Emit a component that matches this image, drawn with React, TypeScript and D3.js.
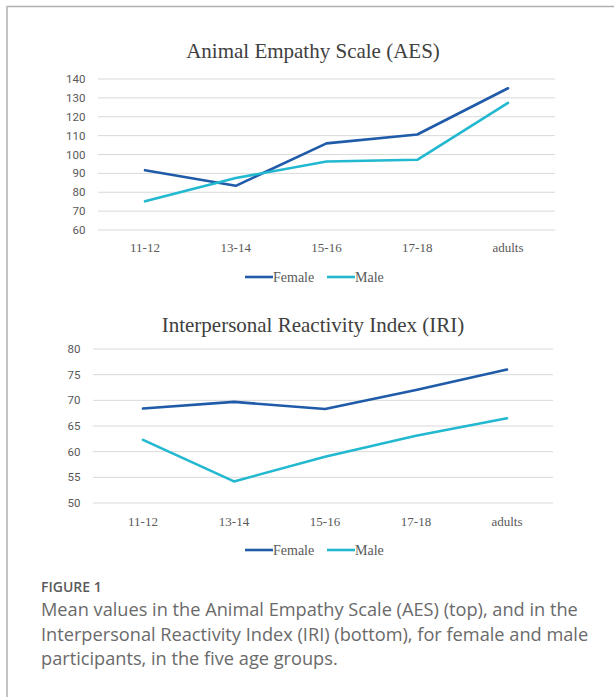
import { useEffect, useRef } from 'react'
import * as d3 from 'd3'

const AGE_GROUPS = ['11-12', '13-14', '15-16', '17-18', 'adults']
const SERIES_NAMES = ['Female', 'Male']

const AES_FEMALE = [91.7, 83.4, 105.9, 110.6, 135.1]
const AES_MALE = [75.2, 87.5, 96.3, 97.2, 127.3]
const AES_TICKS = [60, 70, 80, 90, 100, 110, 120, 130, 140]

const IRI_FEMALE = [68.4, 69.7, 68.3, 72.0, 76.0]
const IRI_MALE = [62.3, 54.2, 59.0, 63.1, 66.5]
const IRI_TICKS = [50, 55, 60, 65, 70, 75, 80]

const CAPTION_LINES = [
  'Mean values in the Animal Empathy Scale (AES) (top), and in the',
  'Interpersonal Reactivity Index (IRI) (bottom), for female and male',
  'participants, in the five age groups.',
]

const COLORS = ['#1f5ba8', '#22b8d0']
const SERIF = '"Liberation Serif", "Times New Roman", serif'
const SANS = 'Roboto, "Liberation Sans", sans-serif'

function drawPanel(svg, opts) {
  const { title, titleY, female, male, ticks, gridX, pointX, yRange, tickX, xLabelY, legendY } = opts

  const g = svg.append('g')

  const x = d3.scalePoint().domain(AGE_GROUPS).range(pointX)
  const y = d3
    .scaleLinear()
    .domain([ticks[0], ticks[ticks.length - 1]])
    .range(yRange)

  // title
  g.append('text')
    .attr('x', 313)
    .attr('y', titleY)
    .attr('text-anchor', 'middle')
    .attr('font-family', SERIF)
    .attr('font-size', 21)
    .attr('fill', '#404040')
    .text(title)

  // grid lines
  g.selectAll('line.grid')
    .data(ticks)
    .join('line')
    .attr('class', 'grid')
    .attr('x1', gridX[0])
    .attr('x2', gridX[1])
    .attr('y1', (d) => y(d))
    .attr('y2', (d) => y(d))
    .attr('stroke', '#d9d9d9')
    .attr('stroke-width', 1)

  // y tick labels
  g.selectAll('text.ytick')
    .data(ticks)
    .join('text')
    .attr('class', 'ytick')
    .attr('x', tickX)
    .attr('y', (d) => y(d))
    .attr('dy', '0.35em')
    .attr('text-anchor', 'end')
    .attr('font-family', SANS)
    .attr('font-size', 11.5)
    .attr('fill', '#595959')
    .text((d) => d)

  // x category labels
  g.selectAll('text.xtick')
    .data(AGE_GROUPS)
    .join('text')
    .attr('class', 'xtick')
    .attr('x', (d) => x(d))
    .attr('y', xLabelY)
    .attr('text-anchor', 'middle')
    .attr('font-family', SERIF)
    .attr('font-size', 13)
    .attr('fill', '#595959')
    .text((d) => d)

  const line = d3
    .line()
    .x((d, i) => x(AGE_GROUPS[i]))
    .y((d) => y(d))

  ;[female, male].forEach((vals, i) => {
    g.append('path')
      .datum(vals)
      .attr('d', line)
      .attr('fill', 'none')
      .attr('stroke', COLORS[i])
      .attr('stroke-width', 2.6)
      .attr('stroke-linejoin', 'round')
      .attr('stroke-linecap', 'round')
  })

  // legend
  const legendStarts = [245, 327]
  SERIES_NAMES.forEach((name, i) => {
    const lx = legendStarts[i]
    g.append('line')
      .attr('x1', lx)
      .attr('x2', lx + 28)
      .attr('y1', legendY)
      .attr('y2', legendY)
      .attr('stroke', COLORS[i])
      .attr('stroke-width', 2.6)
    g.append('text')
      .attr('x', lx + 28)
      .attr('y', legendY + 4.5)
      .attr('font-family', SERIF)
      .attr('font-size', 14)
      .attr('fill', '#595959')
      .text(name)
  })
}

export default function App() {
  const svgRef = useRef(null)

  useEffect(() => {
    const svg = d3.select(svgRef.current)
    svg.selectAll('*').remove()

    // frame (top and left edges)
    svg.append('line').attr('x1', 7).attr('x2', 614).attr('y1', 6.5).attr('y2', 6.5)
      .attr('stroke', '#b0b0b0').attr('stroke-width', 1.5)
    svg.append('line').attr('x1', 7).attr('x2', 7).attr('y1', 6).attr('y2', 697)
      .attr('stroke', '#b0b0b0').attr('stroke-width', 1.5)

    drawPanel(svg, {
      title: 'Animal Empathy Scale (AES)',
      titleY: 58,
      female: AES_FEMALE,
      male: AES_MALE,
      ticks: AES_TICKS,
      gridX: [98, 555],
      pointX: [145, 508],
      yRange: [230, 79],
      tickX: 85.5,
      xLabelY: 252,
      legendY: 277,
    })

    drawPanel(svg, {
      title: 'Interpersonal Reactivity Index (IRI)',
      titleY: 332,
      female: IRI_FEMALE,
      male: IRI_MALE,
      ticks: IRI_TICKS,
      gridX: [93, 553],
      pointX: [143, 507],
      yRange: [503, 349],
      tickX: 80.5,
      xLabelY: 526,
      legendY: 550,
    })

    // caption
    svg.append('text')
      .attr('x', 41)
      .attr('y', 591.5)
      .attr('font-family', '"Open Sans", sans-serif')
      .attr('font-size', 14)
      .attr('font-weight', 600)
      .attr('fill', '#5a5a5a')
      .text('FIGURE 1')

    svg.selectAll('text.caption')
      .data(CAPTION_LINES)
      .join('text')
      .attr('class', 'caption')
      .attr('x', 41)
      .attr('y', (d, i) => 616 + i * 24.7)
      .attr('font-family', '"Open Sans", sans-serif')
      .attr('font-size', 18.2)
      .attr('font-weight', 400)
      .attr('fill', '#6a6a6a')
      .text((d) => d)
  }, [])

  return (
    <svg
      ref={svgRef}
      width={614}
      height={697}
      style={{ position: 'absolute', left: 0, top: 0, display: 'block', background: '#fff' }}
    />
  )
}
